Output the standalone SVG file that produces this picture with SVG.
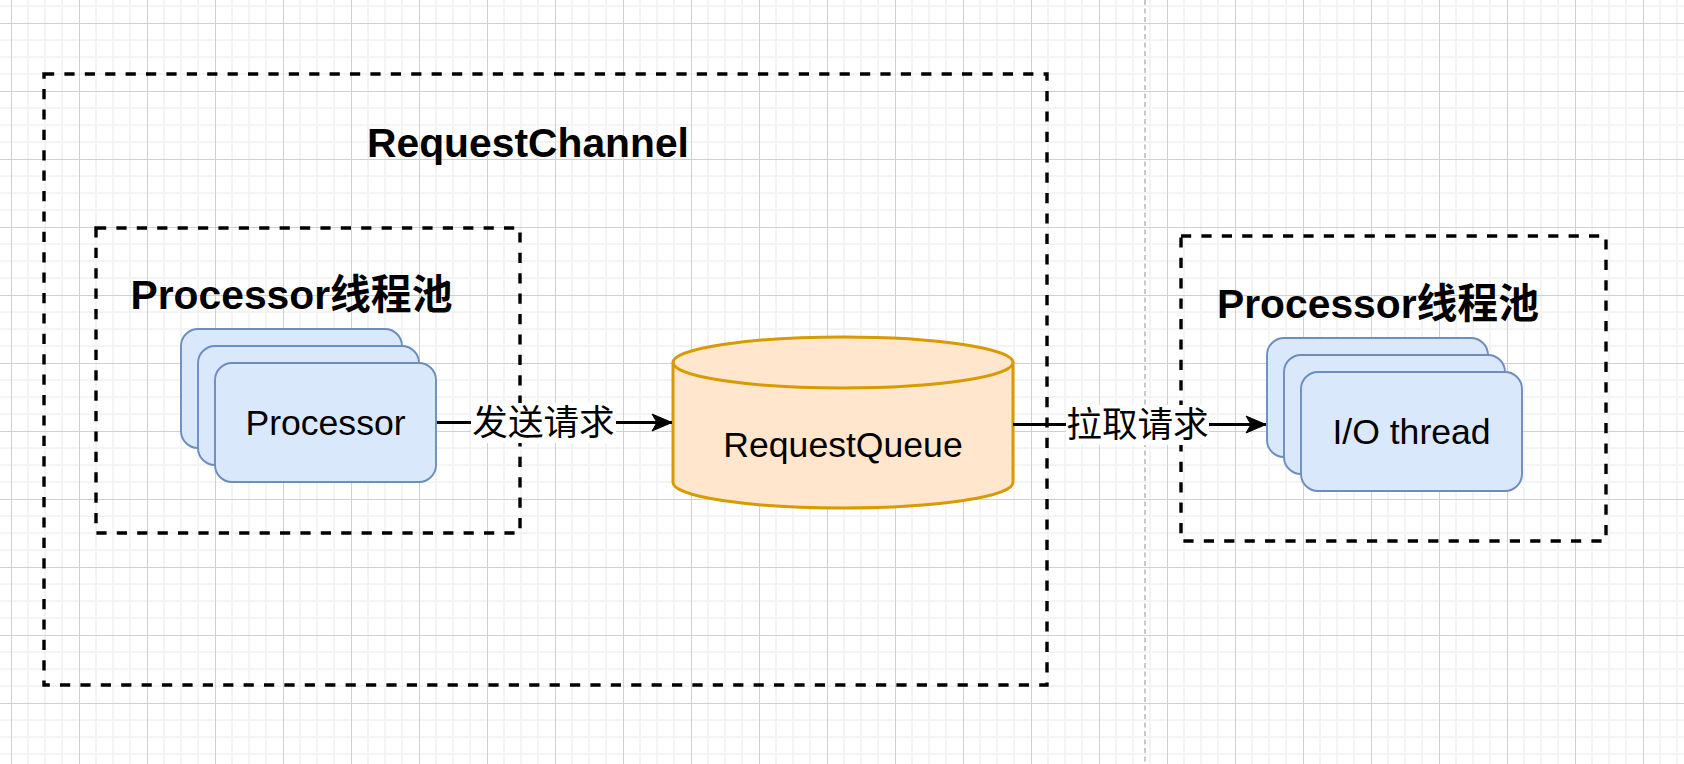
<svg xmlns="http://www.w3.org/2000/svg" width="1684" height="764" viewBox="0 0 1684 764">
  <style>
    .dash { fill: none; stroke: #000000; stroke-width: 3.4; stroke-dasharray: 10.2 10.2; }
    .box { fill: #dae8fc; stroke: #6c8ebf; stroke-width: 1.9; }
    .head { font-family: "Liberation Sans", "Noto Sans CJK SC", sans-serif; font-weight: bold; font-size: 40.8px; fill: #000000; text-anchor: middle; }
    .lbl { font-family: "Liberation Sans", "Noto Sans CJK SC", sans-serif; font-size: 35.6px; fill: #000000; text-anchor: middle; }
    .edge { fill: none; stroke: #000000; stroke-width: 2.8; }
    .ebg { fill: #ffffff; }
  </style>
  <defs>
    <pattern id="grid" patternUnits="userSpaceOnUse" x="11" y="23" width="68" height="68">
      <rect x="16.2" y="0" width="1.7" height="68" fill="#f2f2f2"/>
      <rect x="33.2" y="0" width="1.7" height="68" fill="#f2f2f2"/>
      <rect x="50.2" y="0" width="1.7" height="68" fill="#f2f2f2"/>
      <rect x="0" y="16.2" width="68" height="1.7" fill="#f2f2f2"/>
      <rect x="0" y="33.2" width="68" height="1.7" fill="#f2f2f2"/>
      <rect x="0" y="50.2" width="68" height="1.7" fill="#f2f2f2"/>
      <rect x="0" y="0" width="1" height="68" fill="#d0d0d0"/>
      <rect x="0" y="0" width="68" height="1" fill="#d0d0d0"/>
    </pattern>
    <marker id="arrow" markerUnits="userSpaceOnUse" viewBox="-21 -10 22 20" refX="0" refY="0" markerWidth="22" markerHeight="20" orient="auto">
      <path d="M0,0 L-20,-8.5 L-15,0 L-20,8.5 Z" fill="#000000" stroke="#000000" stroke-width="1"/>
    </marker>
  </defs>

  <rect x="0" y="0" width="1684" height="764" fill="#ffffff"/>
  <rect x="0" y="0" width="1684" height="764" fill="url(#grid)"/>
  <line x1="1145" y1="0" x2="1145" y2="764" stroke="#c0c0c0" stroke-width="1.7" stroke-dasharray="5.1 3.4"/>

  <g id="request-channel">
    <rect class="dash" x="44" y="74" width="1003" height="611"/>
    <text class="head" x="528" y="157">RequestChannel</text>
  </g>

  <g id="processor-pool">
    <rect class="dash" x="96" y="228" width="424" height="305"/>
    <text class="head" x="291.5" y="309">Processor线程池</text>
  </g>

  <g id="processor">
    <rect class="box" x="181" y="329" width="221" height="119" rx="17"/>
    <rect class="box" x="198" y="346" width="221" height="119" rx="17"/>
    <rect class="box" x="215" y="363" width="221" height="119" rx="17"/>
    <text class="lbl" x="325.5" y="435">Processor</text>
  </g>

  <g id="request-queue">
    <path d="M673,362.5 A170,25.5 0 0 1 1013,362.5 V482.5 A170,25.5 0 0 1 673,482.5 Z" fill="#ffe6cc" stroke="#d79b00" stroke-width="3"/>
    <path d="M673,362.5 A170,25.5 0 0 0 1013,362.5" fill="none" stroke="#d79b00" stroke-width="3"/>
    <text class="lbl" x="843" y="457">RequestQueue</text>
  </g>

  <g id="io-pool">
    <rect class="dash" x="1181" y="236" width="425" height="305"/>
    <text class="head" x="1378" y="318">Processor线程池</text>
  </g>

  <g id="io-thread">
    <rect class="box" x="1267" y="338" width="221" height="119" rx="17"/>
    <rect class="box" x="1284" y="355" width="221" height="119" rx="17"/>
    <rect class="box" x="1301" y="372" width="221" height="119" rx="17"/>
    <text class="lbl" x="1411.5" y="444">I/O thread</text>
  </g>

  <g id="connectors">
    <g id="edge-send">
      <line class="edge" x1="437" y1="422.5" x2="672" y2="422.5" marker-end="url(#arrow)"/>
      <rect class="ebg" x="471" y="403" width="145" height="40"/>
      <text class="lbl" x="543.5" y="435">发送请求</text>
    </g>
    <g id="edge-pull">
      <line class="edge" x1="1013" y1="424.5" x2="1266" y2="424.5" marker-end="url(#arrow)"/>
      <rect class="ebg" x="1066" y="405" width="143" height="40"/>
      <text class="lbl" x="1137.5" y="437">拉取请求</text>
    </g>
  </g>
</svg>
